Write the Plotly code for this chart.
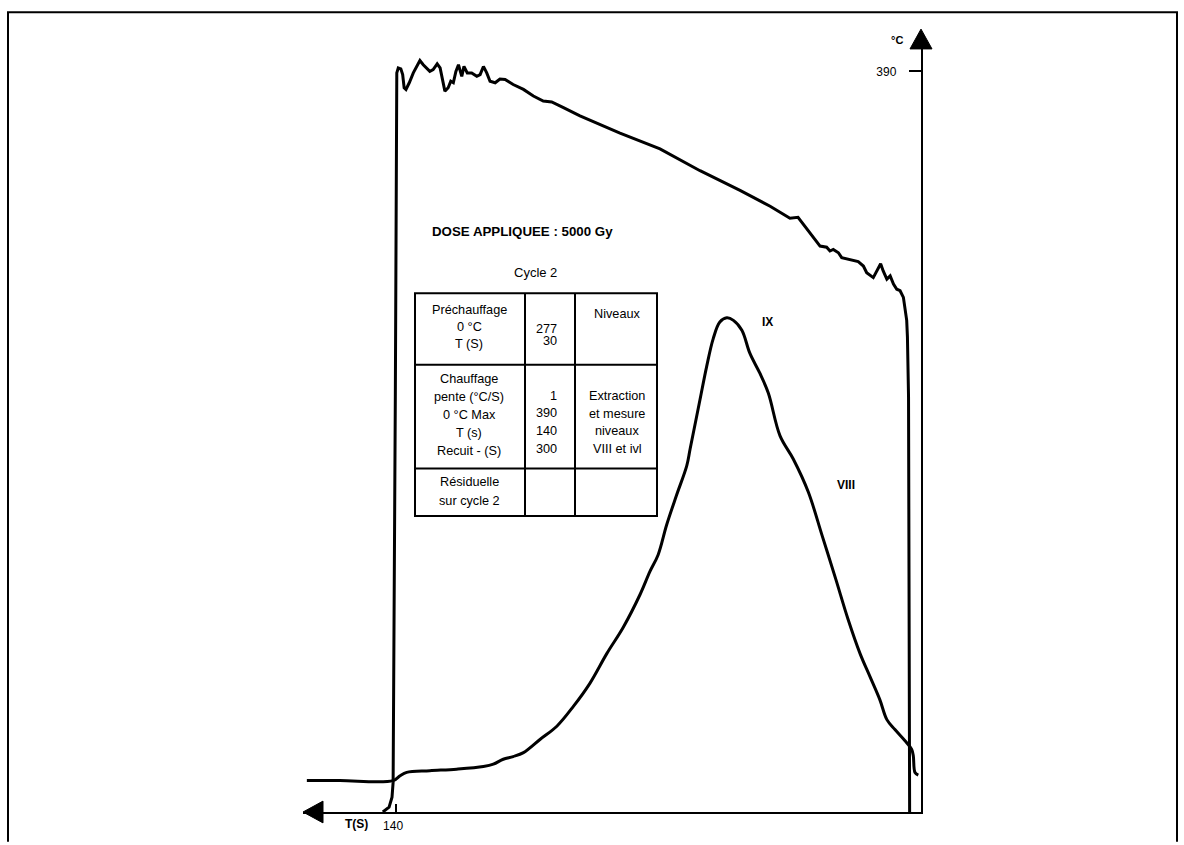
import plotly.graph_objects as go

# ---------------- data ----------------
# Temperature curve: time (s, axis runs right->left) and temperature (°C)
temp_t = [143.6, 141.9, 141.1, 140.8, 140.2, 139.8, 139.4, 138.7, 138.2, 137.8, 137.3, 136.4,
          135.3, 134.2, 133.5, 132.6, 131.7, 130.8, 129.9, 128.8, 128.0, 127.3, 126.7, 125.8,
          125.1, 124.4, 123.7, 123.0, 122.1, 121.5, 120.6, 119.4, 118.0, 117.1, 116.2, 115.3,
          114.4, 113.0, 111.7, 110.3, 108.1, 105.3, 102.6, 99.9, 97.6, 94.4, 89.9, 79.0, 68.1,
          57.2, 46.3, 38.1, 32.7, 30.5, 27.8, 24.5, 22.7, 21.8, 20.9, 19.5, 18.6, 16.3, 14.1,
          12.7, 11.8, 10.0, 9.1, 8.0, 7.3, 6.3, 5.4, 4.5, 3.6, 2.7, 1.8, 1.4, 0.9, 0.7, 0.4, 0.1]
temp_c = [0.0, 2.6, 7.8, 15.6, 218.9, 389.2, 391.8, 391.3, 388.3, 381.4, 380.5, 384.0,
          389.2, 393.5, 395.7, 393.5, 391.8, 390.0, 390.9, 394.0, 391.8, 384.0, 379.6, 381.4,
          384.8, 384.0, 390.0, 393.5, 387.4, 392.6, 389.2, 389.2, 387.4, 388.3, 392.6, 389.2,
          384.8, 384.0, 386.0, 385.7, 383.1, 380.5, 377.0, 374.4, 373.9, 370.9, 366.6, 357.5, 349.2,
          337.7, 327.3, 319.0, 312.7, 313.2, 306.5, 298.0, 297.4, 295.4, 296.2, 294.5, 291.9, 291.0, 289.8,
          287.5, 284.0, 281.4, 284.9, 288.7, 284.9, 280.6, 282.3, 278.0, 275.3, 274.5, 271.0, 265.8, 258.9, 250.2, 218.9, 0.0]

# Thermoluminescence glow curve: time (s) and intensity (arbitrary units, peak = 100)
tl_t = [164.3, 155.3, 140.8, 138.9, 137.1, 130.8, 123.5, 116.2, 113.5, 110.8, 108.1, 105.3,
        100.8, 96.2, 91.7, 87.2, 82.6, 78.1, 73.5, 70.8, 68.6, 66.3, 63.6, 60.8, 59.9, 57.2,
        55.4, 53.6, 51.8, 49.9, 48.1, 45.8, 43.6, 40.9, 38.6, 35.4, 31.8, 27.7, 24.0, 20.2,
        16.9, 13.6, 10.9, 8.2, 6.3, 4.1, 0.9, -0.46, -0.9, -1.36, -2.26]
tl_i = [6.35, 6.35, 6.35, 7.35, 8.01, 8.35, 8.67, 9.21, 9.67, 10.67, 11.22, 12.02,
        14.68, 17.36, 21.37, 26.04, 32.05, 37.39, 44.06, 48.73, 52.07, 58.08, 64.09, 70.10, 73.44, 83.46,
        90.13, 95.80, 99.14, 100.0, 99.48, 97.48, 92.79, 88.79, 84.78, 76.11, 71.44, 64.75, 56.08, 47.07,
        39.05, 32.05, 27.38, 22.69, 18.69, 16.68, 14.02, 12.68, 11.36, 8.01, 7.47]

x_tick_vals = [140, 0]
x_tick_text = ["140", "0"]
y_tick_vals = [390]
y_tick_text = ["390"]

dose_text = "DOSE APPLIQUEE : 5000 Gy"
table_title = "Cycle 2"
col1_rows = [["Préchauffage", "0 °C", "T (S)"],
             ["Chauffage", "pente (°C/S)", "0 °C Max", "T (s)", "Recuit - (S)"],
             ["Résiduelle", "sur cycle 2"]]
col2_rows = [["277", "30"], ["1", "390", "140", "300"], []]
col3_rows = [["Niveaux"], ["Extraction", "et mesure", "niveaux", "VIII et ivl"], []]
peak_labels = ["IX", "VIII"]

# ---------------- layout helpers ----------------
W, H = 1184, 845
# plot area edges in window pixels
L, R, T, B = 303, 921, 40, 820


def px(x):
    return (x - L) / (R - L)


def py(y):
    return (B - y) / (B - T)


FONT = "Liberation Sans, Arial, sans-serif"

fig = go.Figure()
fig.add_trace(go.Scatter(x=temp_t, y=temp_c, mode="lines",
                         line=dict(color="black", width=3), yaxis="y", showlegend=False,
                         hoverinfo="skip"))
fig.add_trace(go.Scatter(x=tl_t, y=tl_i, mode="lines",
                         line=dict(color="black", width=3, shape="spline", smoothing=1.0),
                         yaxis="y2", showlegend=False, hoverinfo="skip"))

shapes = []
annotations = []

# outer frame (open at the bottom, as in the scan)
shapes.append(dict(type="path", xref="paper", yref="paper",
                   path=f"M {px(8)},{py(850)} L {px(8)},{py(12)} L {px(1177)},{py(12)} L {px(1177)},{py(850)}",
                   line=dict(color="black", width=2)))

# axis arrows
shapes.append(dict(type="path", xref="paper", yref="paper",
                   path=f"M {px(303)},{py(820)} L {px(323)},{py(809)} L {px(323)},{py(831)} Z",
                   fillcolor="black", line=dict(color="black", width=1)))
shapes.append(dict(type="path", xref="paper", yref="paper",
                   path=f"M {px(921)},{py(29)} L {px(910)},{py(49)} L {px(932)},{py(49)} Z",
                   fillcolor="black", line=dict(color="black", width=1)))

# table
tx0, tx1, tx2, tx3 = 415, 525, 575, 657
ty0, ty1, ty2, ty3 = 296, 368, 473, 521
shapes.append(dict(type="rect", xref="paper", yref="paper", x0=px(tx0), x1=px(tx3),
                   y0=py(ty3), y1=py(ty0), line=dict(color="black", width=2)))
for xx in (tx1, tx2):
    shapes.append(dict(type="line", xref="paper", yref="paper", x0=px(xx), x1=px(xx),
                       y0=py(ty3), y1=py(ty0), line=dict(color="black", width=2)))
for yy in (ty1, ty2):
    shapes.append(dict(type="line", xref="paper", yref="paper", x0=px(tx0), x1=px(tx3),
                       y0=py(yy), y1=py(yy), line=dict(color="black", width=2)))


def txt(s, x, y, size=12, bold=False, anchor="center"):
    annotations.append(dict(text=f"<b>{s}</b>" if bold else s, xref="paper", yref="paper",
                            x=px(x), y=py(y), xanchor=anchor, yanchor="middle", showarrow=False,
                            font=dict(family=FONT, size=size, color="black")))


txt(dose_text, 522, 233, size=13.3, bold=True)
txt(table_title, 535, 275, size=13)

col1_y = [[313, 330, 347], [383, 401, 419, 437, 455], [487, 506]]
col2_y = [[332, 344], [400, 417, 435, 453], []]
col3_y = [[317], [400, 418, 435, 453], []]
for rows, ys in zip(col1_rows, col1_y):
    for s, y in zip(rows, ys):
        txt(s, 469, y, size=12.7)
for rows, ys in zip(col2_rows, col2_y):
    for s, y in zip(rows, ys):
        txt(s, 559, y, size=12.7, anchor="right")
for rows, ys in zip(col3_rows, col3_y):
    for s, y in zip(rows, ys):
        txt(s, 617, y, size=12.7)

txt(peak_labels[0], 767, 325, size=12, bold=True)
txt(peak_labels[1], 846, 490, size=12, bold=True)

txt("T(S)", 356, 832, size=12, bold=True)
txt("°C", 897, 40, size=11, bold=True)

fig.update_layout(
    width=W, height=H,
    margin=dict(l=L, r=W - R, t=T, b=H - B),
    paper_bgcolor="white", plot_bgcolor="white",
    font=dict(family=FONT, color="black"),
    xaxis=dict(range=[(910 - L) / 3.671, (910 - R) / 3.671], showgrid=False, zeroline=False,
               showline=True, linecolor="black", linewidth=2,
               tickmode="array", tickvals=x_tick_vals, ticktext=x_tick_text,
               ticks="inside", ticklen=8, tickwidth=2, tickcolor="black",
               tickfont=dict(family=FONT, size=12, color="black"), ticklabelstandoff=2,
               ticklabelshift=3),
    yaxis=dict(range=[0, (B - T) / 1.9187], side="right", showgrid=False, zeroline=False,
               showline=True, linecolor="black", linewidth=2,
               tickmode="array", tickvals=y_tick_vals, ticktext=y_tick_text,
               ticks="inside", ticklen=12, tickwidth=2, tickcolor="black",
               ticklabelposition="inside", ticklabelstandoff=12,
               tickfont=dict(family=FONT, size=12, color="black")),
    yaxis2=dict(range=[0, (B - T) / 4.993], overlaying="y", visible=False),
    shapes=shapes, annotations=annotations,
)

# remove the default page margin so the figure sits at the window origin
fig.write_html("out.html",
               config={"displayModeBar": False},
               post_script="document.body.style.margin='0px';"
                           "document.documentElement.style.overflow='hidden';"
                           "document.body.style.overflow='hidden';")
